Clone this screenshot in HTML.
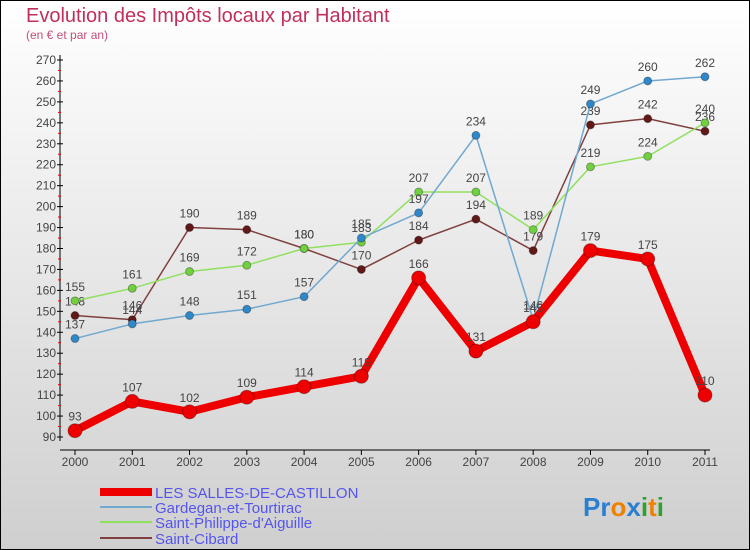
<!DOCTYPE html>
<html><head><meta charset="utf-8"><style>
body{margin:0}
#c{width:750px;height:550px;position:relative;overflow:hidden;background:linear-gradient(#ffffff,#cfcfcf);box-sizing:border-box;border:1px solid #000;font-family:"Liberation Sans",sans-serif}
</style></head><body>
<div id="c">
<svg id="s" width="750" height="550" style="position:absolute;left:-1px;top:-1px">
<text x="26" y="22" font-size="20" fill="#c0305a">Evolution des Impôts locaux par Habitant</text>
<text x="26" y="39" font-size="12" fill="#c0507a">(en € et par an)</text>
<g id="axes"></g><g id="series"></g>
<g>
<line x1="100" y1="492" x2="152" y2="492" stroke="#e00" stroke-width="8"/>
<line x1="100" y1="507" x2="152" y2="507" stroke="#70a8d0" stroke-width="2"/>
<line x1="100" y1="522" x2="152" y2="522" stroke="#90e060" stroke-width="2"/>
<line x1="100" y1="538" x2="152" y2="538" stroke="#804040" stroke-width="2"/>
<g font-size="15" fill="#5555ee">
<text x="155" y="498">LES SALLES-DE-CASTILLON</text>
<text x="155" y="513">Gardegan-et-Tourtirac</text>
<text x="155" y="528">Saint-Philippe-d'Aiguille</text>
<text x="155" y="544">Saint-Cibard</text>
</g></g>
<text x="583" y="516" font-size="26" font-weight="bold"><tspan fill="#2a7fd0">Pr</tspan><tspan fill="#f08000">o</tspan><tspan fill="#2a7fd0">x</tspan><tspan fill="#30a030">i</tspan><tspan fill="#f08000">t</tspan><tspan fill="#30a030">i</tspan></text>
</svg></div>
<script>
const years=[2000,2001,2002,2003,2004,2005,2006,2007,2008,2009,2010,2011];
const salles=[93,107,102,109,114,119,166,131,145,179,175,110];
const gardegan=[137,144,148,151,157,185,197,234,146,249,260,262];
const philippe=[155,161,169,172,180,183,207,207,189,219,224,240];
const cibard=[148,146,190,189,180,170,184,194,179,239,242,236];
const yTicks=[90,100,110,120,130,140,150,160,170,180,190,200,210,220,230,240,250,260,270];
const NS="http://www.w3.org/2000/svg";
const X=i=>75+i*(630/11);
const Y=v=>437-(v-90)*(377/180);
function mk(p,t,a){const e=document.createElementNS(NS,t);for(const k in a)e.setAttribute(k,a[k]);p.appendChild(e);return e;}
const ax=document.getElementById('axes');
let l=mk(ax,'line',{x1:60,y1:55,x2:60,y2:441,stroke:'#000'});


l=mk(ax,'line',{x1:60,y1:450,x2:710,y2:450,stroke:'#000'});


yTicks.forEach(v=>{const y=Y(v);
mk(ax,'line',{x1:57,y1:y,x2:63,y2:y,stroke:'#000'});
if(v<270)mk(ax,'line',{x1:58,y1:Y(v+5),x2:61,y2:Y(v+5),stroke:'#e00'});
const t=mk(ax,'text',{x:56,y:y+4,'font-size':12,fill:'#444','text-anchor':'end'});t.textContent=v;

});
years.forEach((yr,i)=>{mk(ax,'line',{x1:X(i),y1:450,x2:X(i),y2:455,stroke:'#000'});
const t=mk(ax,'text',{x:X(i),y:466,'font-size':12,fill:'#444','text-anchor':'middle'});t.textContent=yr;

});
const sg=document.getElementById('series');
function draw(vals,col,dot,w,r,name){const g=mk(sg,'g',{});


mk(g,'polyline',{points:vals.map((v,i)=>X(i)+','+Y(v)).join(' '),fill:'none',stroke:col,'stroke-width':w,'stroke-linejoin':'round'});
vals.forEach((v,i)=>{const c=mk(g,'circle',{cx:X(i),cy:Y(v),r:r,fill:dot,stroke:'rgba(0,0,0,0.3)'});


const t=mk(g,'text',{x:X(i),y:Y(v)-10,'font-size':12,fill:'#444','text-anchor':'middle'});t.textContent=v;

});}
draw(cibard,'#804040','#601818',1.5,4,'series-saint-cibard');
draw(philippe,'#90e060','#70d040',1.5,4,'series-saint-philippe');
draw(gardegan,'#70a8d0','#3088c8',1.5,4,'series-gardegan');
draw(salles,'#e00','#e00',8,7,'series-salles');
</script></body></html>
